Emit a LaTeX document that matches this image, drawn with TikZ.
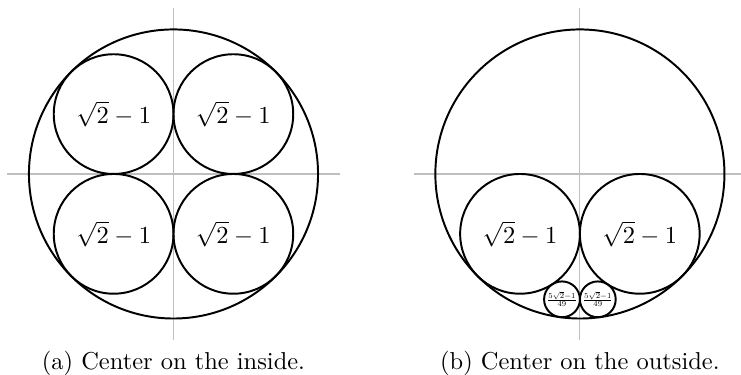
\documentclass[tikz,border=0pt]{standalone}
\usepackage{xcolor}
\usepackage{tikz}
\usetikzlibrary{positioning}
\definecolor{axisgray}{gray}{0.75}

\begin{document}
\begin{tikzpicture}[
  ax/.style={draw=axisgray, line width=0.45pt},
  ring/.style={draw=black, thick},
  lbl/.style={inner sep=0pt, font=\normalsize},
  tinylbl/.style={inner sep=0pt, scale=0.45},
  captxt/.style={font=\normalsize, anchor=base}
]
  \useasboundingbox (-2.493,-2.888) rectangle (8.155,2.50);
  \pgfmathsetmacro{\Rbig}{2.077}
  \pgfmathsetmacro{\rmid}{\Rbig*(sqrt(2)-1)}
  \pgfmathsetmacro{\rtiny}{\Rbig*(5*sqrt(2)-1)/49}
  \pgfmathsetmacro{\htiny}{\Rbig*sqrt(1-2*(5*sqrt(2)-1)/49)}

  % center on the inside
  \draw[ax] (-2.39,0) -- (2.39,0);
  \draw[ax] (0,-2.39) -- (0,2.39);
  \draw[ring] (0,0) circle (\Rbig);
  \foreach \sx/\sy/\n in {-1/1/a1, 1/1/a2, -1/-1/a3, 1/-1/a4} {
    \draw[ring] (\sx*\rmid,\sy*\rmid) circle (\rmid);
    \node[lbl] (\n) at (\sx*\rmid,\sy*\rmid) {$\sqrt{2}-1$};
  }
  \node[captxt] (capa) at (0,-2.81) {(a) Center on the inside.};

  % center on the outside
  \begin{scope}[xshift=5.84cm]
    \draw[ax] (-2.39,0) -- (2.33,0);
    \draw[ax] (0,-2.39) -- (0,2.39);
    \draw[ring] (0,0) circle (\Rbig);
    \foreach \sx/\n in {-1/b1, 1/b2} {
      \draw[ring] (\sx*\rmid,-\rmid) circle (\rmid);
      \node[lbl] (\n) at (\sx*\rmid,-\rmid) {$\sqrt{2}-1$};
    }
    \foreach \sx/\n in {-1/b3, 1/b4} {
      \draw[ring] (\sx*\rtiny,-\htiny) circle (\rtiny);
      \node[tinylbl] (\n) at (\sx*\rtiny,-\htiny) {$\frac{5\sqrt{2}-1}{49}$};
    }
    \node[captxt] (capb) at (0,-2.81) {(b) Center on the outside.};
  \end{scope}
\end{tikzpicture}
\end{document}
